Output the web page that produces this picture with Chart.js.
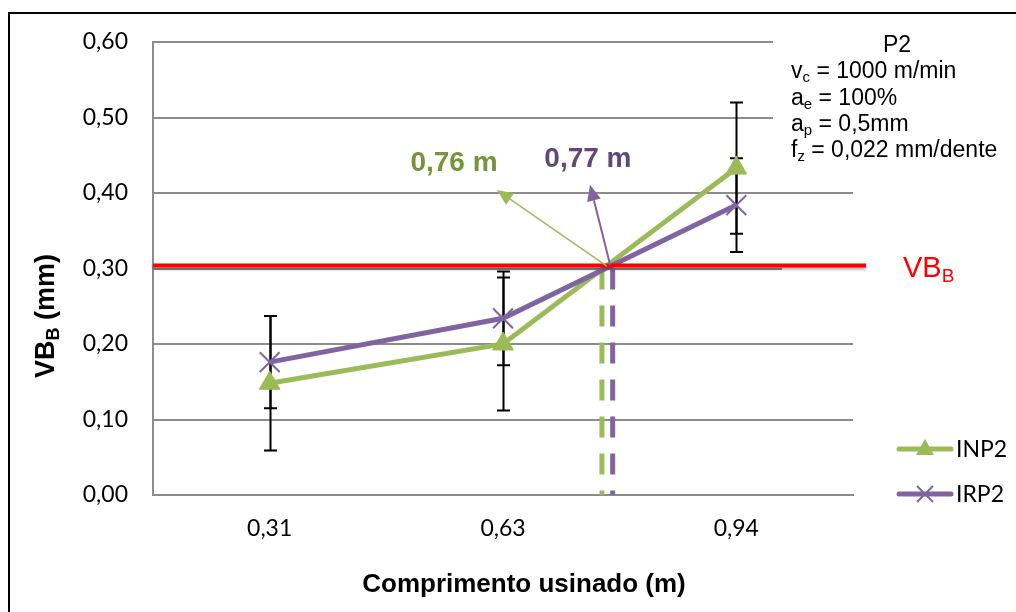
<!DOCTYPE html>
<html>
<head>
<meta charset="utf-8">
<script src="https://cdn.jsdelivr.net/npm/chart.js@4/dist/chart.umd.min.js"></script>
<style>
  body { margin: 0; background: #fff; }
  canvas { display: block; }
</style>
</head>
<body>
<canvas id="chart" width="1016" height="612"></canvas>
<script>
const categories = ['0,31', '0,63', '0,94'];
const inp2 = [0.148, 0.200, 0.433];
const irp2 = [0.176, 0.234, 0.384];
const inp2Err = [0.089, 0.088, 0.087];
const irp2Err = [0.061, 0.062, 0.062];
const vbLimit = 0.304;
// where each curve reaches VB_B = 0,30 mm, in category index units
const crossInp2 = 1.424;  // 0,76 m
const crossIrp2 = 1.47;   // 0,77 m

const green = '#9BBB59';
const purple = '#8064A2';
const grid = '#8c8c8c';
const arial = '"Liberation Sans", Arial, sans-serif';
const calibri = 'Lato, "Open Sans", sans-serif';

// arrows + labels, in data units [index, mm]
const notes = [
  { text: '0,76 m', color: '#77933C', label: [0.79, 0.44], from: [1.445, 0.303], to: [0.974, 0.404], line: green, w: 1.5 },
  { text: '0,77 m', color: '#5F497A', label: [1.364, 0.445], from: [1.459, 0.305], to: [1.373, 0.411], line: purple, w: 2 }
];

function drawRich(ctx, parts, x, y, size, o) {
  const sub = Math.round(size * 0.65);
  const font = s => `${o.weight || 'normal'} ${s}px ${o.family || arial}`;
  let w = 0;
  parts.forEach(p => { ctx.font = font(p[1] ? sub : size); w += ctx.measureText(p[0]).width; });
  let cx = o.align === 'center' ? x - w / 2 : x;
  ctx.textAlign = 'left';
  ctx.textBaseline = 'alphabetic';
  ctx.fillStyle = o.color || '#000';
  parts.forEach(p => {
    ctx.font = font(p[1] ? sub : size);
    ctx.fillText(p[0], cx, p[1] ? y + size * 0.18 : y);
    cx += ctx.measureText(p[0]).width;
  });
}

function arrow(ctx, x1, y1, x2, y2, color, w) {
  const a = Math.atan2(y2 - y1, x2 - x1);
  const len = 16, half = 7;
  const bx = x2 - Math.cos(a) * len, by = y2 - Math.sin(a) * len;
  ctx.strokeStyle = color;
  ctx.fillStyle = color;
  ctx.lineWidth = w;
  ctx.beginPath();
  ctx.moveTo(x1, y1);
  ctx.lineTo(bx, by);
  ctx.stroke();
  ctx.beginPath();
  ctx.moveTo(x2, y2);
  ctx.lineTo(bx + Math.sin(a) * half, by - Math.cos(a) * half);
  ctx.lineTo(bx - Math.sin(a) * half, by + Math.cos(a) * half);
  ctx.closePath();
  ctx.fill();
}

const extras = {
  id: 'extras',
  beforeDatasetsDraw(chart) {
    const ctx = chart.ctx, xs = chart.scales.x, ys = chart.scales.y;
    ctx.save();
    // text boxes hide the grid lines behind them
    ctx.fillStyle = '#fff';
    ctx.fillRect(773, 28, 243, 130);
    ctx.fillRect(782, 255, 234, 28);
    // error bars
    ctx.strokeStyle = '#000';
    ctx.lineWidth = 2;
    chart.data.datasets.forEach(ds => {
      if (!ds.errors) return;
      ds.data.forEach((p, i) => {
        const x = Math.round(xs.getPixelForValue(p.x)) + 0.5;
        const top = ys.getPixelForValue(p.y + ds.errors[i]);
        const bot = ys.getPixelForValue(p.y - ds.errors[i]);
        ctx.beginPath();
        ctx.moveTo(x, top); ctx.lineTo(x, bot);
        ctx.moveTo(x - 6.5, top); ctx.lineTo(x + 6.5, top);
        ctx.moveTo(x - 6.5, bot); ctx.lineTo(x + 6.5, bot);
        ctx.stroke();
      });
    });
    ctx.restore();
  },
  afterDatasetsDraw(chart) {
    const ctx = chart.ctx, xs = chart.scales.x, ys = chart.scales.y, area = chart.chartArea;
    ctx.save();
    // VB_B limit
    const yl = ys.getPixelForValue(vbLimit);
    ctx.shadowColor = 'rgba(0,0,0,0.35)';
    ctx.shadowOffsetY = 2;
    ctx.shadowBlur = 3;
    ctx.strokeStyle = '#ff0000';
    ctx.lineWidth = 4;
    ctx.beginPath();
    ctx.moveTo(area.left, yl);
    ctx.lineTo(area.right + 13, yl);
    ctx.stroke();
    ctx.shadowColor = 'transparent';
    drawRich(ctx, [['VB', 0], ['B', 1]], 903, 277, 29, { color: '#ff0000' });

    notes.forEach(n => {
      arrow(ctx, xs.getPixelForValue(n.from[0]), ys.getPixelForValue(n.from[1]),
        xs.getPixelForValue(n.to[0]), ys.getPixelForValue(n.to[1]), n.line, n.w);
      ctx.font = `bold 28px ${arial}`;
      ctx.fillStyle = n.color;
      ctx.textAlign = 'center';
      ctx.textBaseline = 'middle';
      ctx.fillText(n.text, xs.getPixelForValue(n.label[0]), ys.getPixelForValue(n.label[1]));
    });
    ctx.restore();
  },
  afterDraw(chart) {
    const ctx = chart.ctx;
    ctx.save();
    // parameters box
    drawRich(ctx, [['P2', 0]], 897, 52, 23, { align: 'center' });
    drawRich(ctx, [['v', 0], ['c', 1], [' = 1000 m/min', 0]], 791, 78, 23, {});
    drawRich(ctx, [['a', 0], ['e', 1], [' = 100%', 0]], 791, 105, 23, {});
    drawRich(ctx, [['a', 0], ['p', 1], [' = 0,5mm', 0]], 791, 131, 23, {});
    drawRich(ctx, [['f', 0], ['z', 1], [' = 0,022 mm/dente', 0]], 791, 157, 23, {});

    // axis titles
    drawRich(ctx, [['Comprimento usinado (m)', 0]], 524, 592, 26, { align: 'center', weight: 'bold' });
    ctx.translate(54, 316);
    ctx.rotate(-Math.PI / 2);
    drawRich(ctx, [['VB', 0], ['B', 1], [' (mm)', 0]], 0, 0, 27, { align: 'center', weight: 'bold' });
    ctx.setTransform(1, 0, 0, 1, 0, 0);

    // legend
    chart.data.datasets.slice(0, 2).forEach((ds, i) => {
      const y = 449 + i * 45, cx = 925;
      ctx.strokeStyle = ds.borderColor;
      ctx.fillStyle = ds.borderColor;
      ctx.lineWidth = 5;
      ctx.lineCap = 'round';
      ctx.beginPath();
      ctx.moveTo(899, y); ctx.lineTo(951, y);
      ctx.stroke();
      ctx.lineCap = 'butt';
      if (ds.pointStyle === 'triangle') {
        ctx.beginPath();
        ctx.moveTo(cx, y - 10); ctx.lineTo(cx + 9, y + 6); ctx.lineTo(cx - 9, y + 6);
        ctx.closePath();
        ctx.fill();
      } else {
        ctx.lineWidth = 2;
        ctx.beginPath();
        ctx.moveTo(cx - 8, y - 8); ctx.lineTo(cx + 8, y + 8);
        ctx.moveTo(cx + 8, y - 8); ctx.lineTo(cx - 8, y + 8);
        ctx.stroke();
      }
      ctx.font = `23px ${calibri}`;
      ctx.fillStyle = '#000';
      ctx.textAlign = 'left';
      ctx.textBaseline = 'middle';
      ctx.fillText(ds.label, 956, y + 1);
    });

    // outer frame
    ctx.fillStyle = '#000';
    ctx.fillRect(8, 12, 2, 600);
    ctx.fillRect(8, 12, 1008, 2);
    ctx.restore();
  }
};

new Chart(document.getElementById('chart'), {
  type: 'line',
  data: {
    datasets: [
      {
        label: 'INP2',
        data: inp2.map((v, i) => ({ x: i, y: v })),
        errors: inp2Err,
        borderColor: green, backgroundColor: green,
        borderWidth: 5, pointStyle: 'triangle', pointRadius: 12, pointBorderWidth: 1,
        order: 1
      },
      {
        label: 'IRP2',
        data: irp2.map((v, i) => ({ x: i, y: v })),
        errors: irp2Err,
        borderColor: purple, backgroundColor: purple,
        borderWidth: 5, pointStyle: 'crossRot', pointRadius: 14, pointBorderWidth: 2,
        order: 0
      },
      {
        label: 'INP2 limite',
        data: [{ x: crossInp2, y: 0.30 }, { x: crossInp2, y: 0 }],
        borderColor: green, borderWidth: 5, borderDash: [21, 16], pointRadius: 0,
        order: 3
      },
      {
        label: 'IRP2 limite',
        data: [{ x: crossIrp2, y: 0.30 }, { x: crossIrp2, y: 0 }],
        borderColor: purple, borderWidth: 5, borderDash: [21, 16], pointRadius: 0,
        order: 2
      }
    ]
  },
  options: {
    responsive: false,
    animation: false,
    layout: { padding: { top: 42, right: 163, left: 0, bottom: 0 } },
    plugins: { legend: { display: false }, tooltip: { enabled: false } },
    scales: {
      x: {
        type: 'linear',
        min: -0.5,
        max: 2.5,
        afterBuildTicks: s => { s.ticks = categories.map((c, i) => ({ value: i })); },
        afterFit: s => { s.height = 117; },
        grid: { display: false, drawTicks: false },
        border: { display: true, color: grid, width: 2 },
        ticks: {
          autoSkip: false, maxRotation: 0, padding: 20,
          color: '#000', font: { family: calibri, size: 23 },
          callback: v => categories[v]
        }
      },
      y: {
        min: 0,
        max: 0.6,
        afterFit: s => { s.width = 153; },
        grid: { color: grid, lineWidth: 2, drawTicks: false },
        border: { display: true, color: grid, width: 2 },
        ticks: {
          stepSize: 0.1, padding: 25,
          color: '#000', font: { family: calibri, size: 23 },
          callback: v => v.toFixed(2).replace('.', ',')
        }
      }
    }
  },
  plugins: [extras]
});
</script>
</body>
</html>
